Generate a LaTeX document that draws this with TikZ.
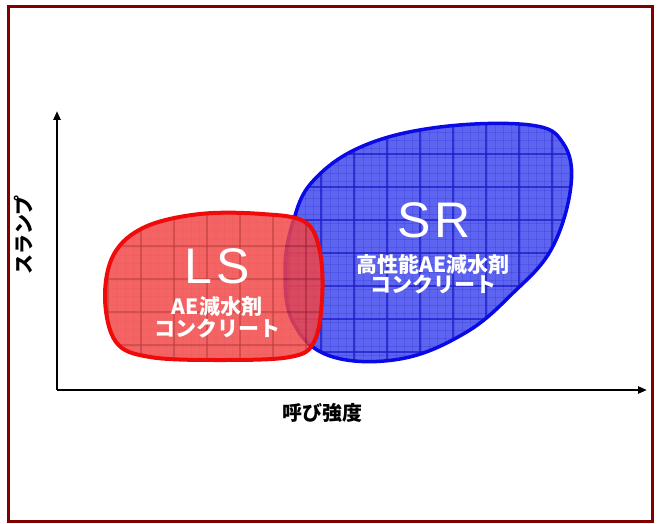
\documentclass[tikz,border=0pt]{standalone}
\usepackage{fontspec}
\setmainfont{Liberation Sans}
\newfontfamily\jp{Noto Sans CJK JP}
\usetikzlibrary{arrows.meta}
\definecolor{framec}{RGB}{128,0,0}
\definecolor{bluefill}{RGB}{92,100,240}
\definecolor{bluegrid}{RGB}{30,30,200}
\definecolor{blueline}{RGB}{10,10,230}
\definecolor{redfill}{RGB}{242,70,70}
\definecolor{redgrid}{RGB}{170,20,20}
\definecolor{redline}{RGB}{240,10,10}
\tikzset{
  axisline/.style={line width=2.5pt,-{Triangle[length=9pt,width=7pt]}},
  whitetxt/.style={text=white,inner sep=0pt,align=center},
  big/.style={whitetxt,font=\fontsize{50}{52}\selectfont},
  jpw/.style={whitetxt,font=\jp\bfseries\fontsize{21}{24}\selectfont},
  axlabel/.style={inner sep=0pt,font=\jp\bfseries\fontsize{20}{22}\selectfont},
  finegrid/.style={line width=0.4pt,opacity=0.2},
  majgrid/.style={line width=1.1pt,opacity=0.75}
}
\def\bluepath{plot[smooth cycle,tension=0.65] coordinates {(313,181) (363,146) (440,127) (530,125) (563,143) (571,185) (552,248) (513,293) (465,333) (400,359) (330,356) (293,322) (285,270) (293,222)}}
\def\redpath{plot[smooth cycle,tension=0.6] coordinates {(105,298) (114,254) (145,227) (200,214) (262,214) (305,222) (320,252) (322,300) (314,342) (290,357) (220,360) (150,357) (116,342)}}
\begin{document}
\begin{tikzpicture}[x=1pt,y=-1pt]
\useasboundingbox (0,0) rectangle (664,524);
\draw[framec,line width=3pt] (8,7) rectangle (652,521);
% blue region
\begin{scope}
  \clip \bluepath;
  \fill[bluefill] (270,110) rectangle (590,370);
  \foreach \gx in {272.25,280.5,...,590} {\draw[bluegrid,finegrid] (\gx,110) -- (\gx,370);}
  \foreach \gy in {115.5,123.75,...,370} {\draw[bluegrid,finegrid] (270,\gy) -- (590,\gy);}
  \foreach \gx in {288,321,...,590} {\draw[bluegrid,majgrid] (\gx,110) -- (\gx,370);}
  \foreach \gy in {121,154,...,370} {\draw[bluegrid,majgrid] (270,\gy) -- (590,\gy);}
\end{scope}
\draw[blueline,line width=3.5pt] \bluepath;
% red region
\begin{scope}[opacity=0.84,transparency group]
  \clip \redpath;
  \fill[redfill] (100,205) rectangle (330,365);
  \foreach \gx in {100.5,108.75,...,330} {\draw[redgrid,finegrid] (\gx,205) -- (\gx,365);}
  \foreach \gy in {206,214.25,...,365} {\draw[redgrid,finegrid] (100,\gy) -- (330,\gy);}
  \foreach \gx in {108,141,...,330} {\draw[redgrid,majgrid] (\gx,205) -- (\gx,365);}
  \foreach \gy in {213,246,...,365} {\draw[redgrid,majgrid] (100,\gy) -- (330,\gy);}
\end{scope}
\draw[redline,line width=4pt] \redpath;
% axes
\coordinate (O) at (57,390);
\coordinate (Ytip) at (57,111);
\coordinate (Xtip) at (647,390);
\draw[axisline] (O) -- (Ytip);
\draw[axisline] (O) -- (Xtip);
\node[axlabel,rotate=90] (ylab) at (24,235) {スランプ};
\node[axlabel] (xlab) at (322,413) {呼び強度};
% texts
\node[big] (ls) at (217,266) {L\kern4pt S};
\node[jpw] (ls1) at (217,307) {AE減水剤};
\node[jpw] (ls2) at (217,328) {コンクリート};
\node[big] (sr) at (434,220) {S\kern4pt R};
\node[jpw] (sr1) at (433,264) {高性能AE減水剤};
\node[jpw] (sr2) at (433,284) {コンクリート};
\end{tikzpicture}
\end{document}
